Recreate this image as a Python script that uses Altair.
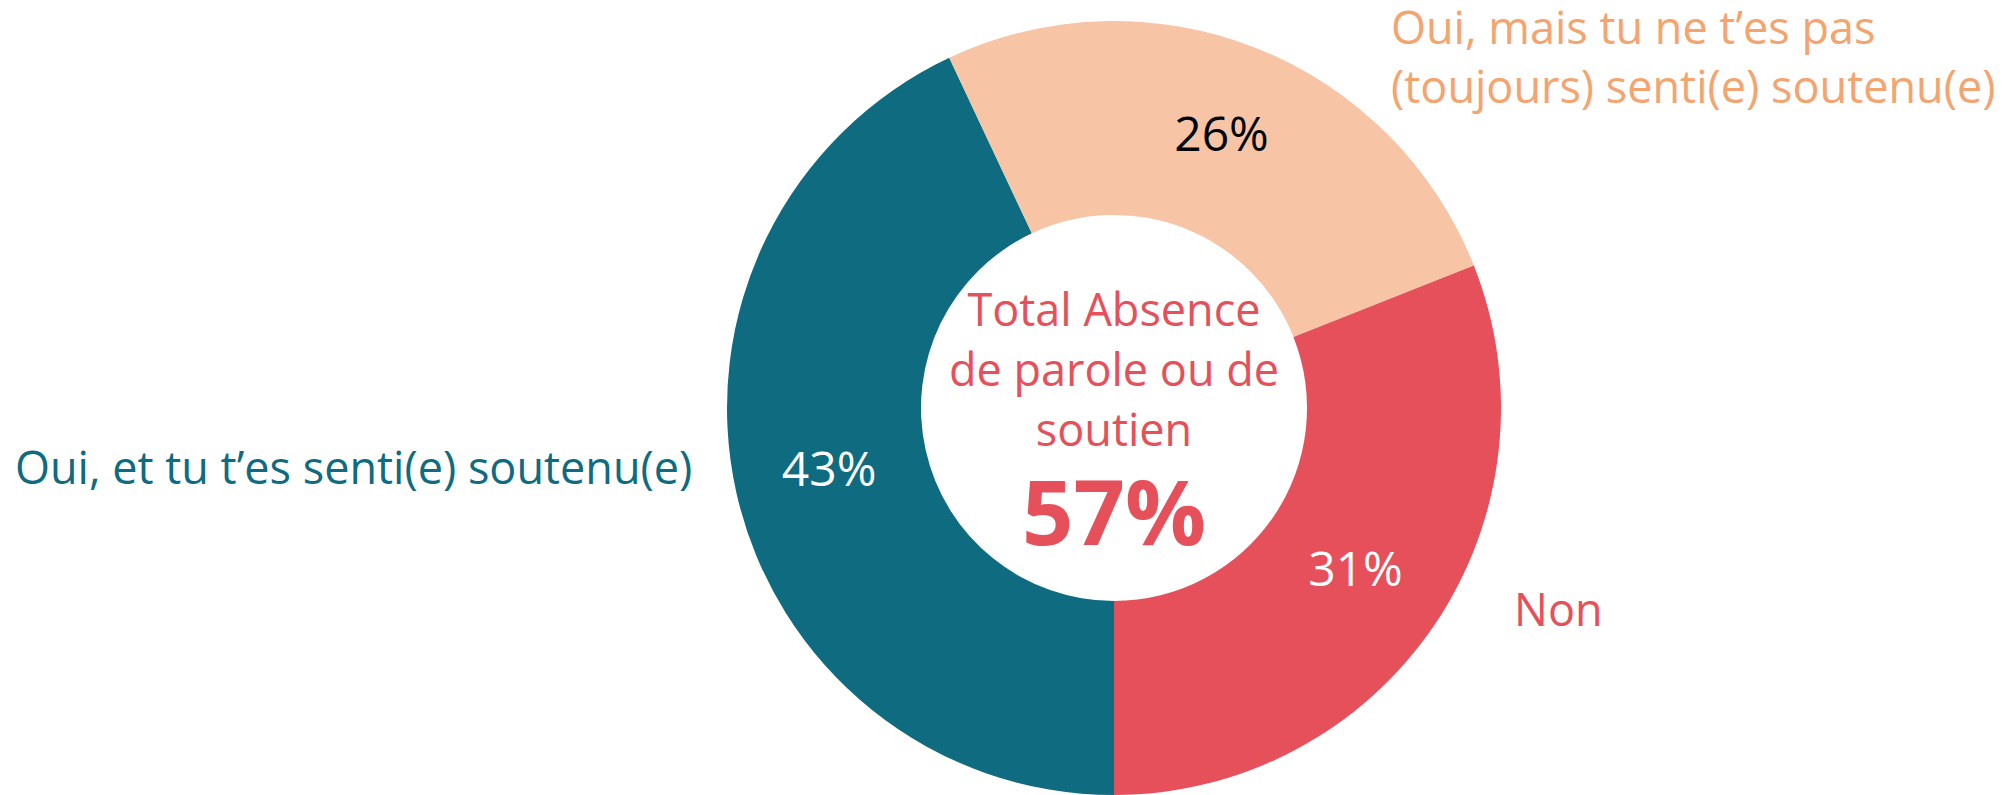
import altair as alt
import pandas as pd

# ---- data ----
categories = [
    "Oui, et tu t’es senti(e) soutenu(e)",
    "Oui, mais tu ne t’es pas (toujours) senti(e) soutenu(e)",
    "Non",
]
values = [43, 26, 31]
order = [1, 2, 3]
pct_labels = ["43%", "26%", "31%"]
seg_colors = ["#0F6B80", "#F7C4A5", "#E5505A"]
pct_text_colors = ["#FFFFFF", "#000000", "#FFFFFF"]
mais_lines = ["Oui, mais tu ne t’es pas", "(toujours) senti(e) soutenu(e)"]

center_lines = ["Total Absence", "de parole ou de", "soutien"]
center_total = "57%"

FONT = "Open Sans"
CX, CY = 1106, 400
R_OUT, R_IN = 387, 193

df = pd.DataFrame({
    "cat": categories,
    "value": values,
    "ord": order,
    "pct": pct_labels,
    "tcol": pct_text_colors,
})

color_scale = alt.Scale(domain=categories, range=seg_colors)
theta_enc = alt.Theta("value:Q", stack=True,
                      scale=alt.Scale(range=[3.141592653589793, 3 * 3.141592653589793]))

base = alt.Chart(df)

arcs = base.mark_arc(innerRadius=R_IN, outerRadius=R_OUT).encode(
    theta=theta_enc,
    order=alt.Order("ord:Q"),
    color=alt.Color("cat:N", scale=color_scale, legend=None),
    x=alt.value(CX),
    y=alt.value(CY),
)

pct_text = base.mark_text(radius=292, font=FONT, fontSize=48, baseline="middle",
                          align="center").encode(
    theta=theta_enc,
    order=alt.Order("ord:Q"),
    text="pct:N",
    color=alt.Color("tcol:N", scale=None),
    x=alt.value(CX),
    y=alt.value(CY),
)

# category labels (annotations)
lab_oui = alt.Chart(pd.DataFrame({"t": [categories[0]]})).mark_text(
    font=FONT, fontSize=45, align="left", baseline="middle", color="#0F6B80"
).encode(text="t:N", x=alt.value(7), y=alt.value(462))

lab_mais = alt.Chart(pd.DataFrame({"t": [categories[1]]})).mark_text(
    font=FONT, fontSize=45, align="left", baseline="middle", color="#F4A46F",
    lineHeight=59
).encode(
    text=alt.value(mais_lines),
    x=alt.value(1383), y=alt.value(22),
)

lab_non = alt.Chart(pd.DataFrame({"t": [categories[2]]})).mark_text(
    font=FONT, fontSize=45, align="left", baseline="middle", color="#E5505A"
).encode(text="t:N", x=alt.value(1506), y=alt.value(604))

center_txt = alt.Chart(pd.DataFrame({"t": [" ".join(center_lines)]})).mark_text(
    font=FONT, fontSize=45, align="center", baseline="middle", color="#E5505A",
    lineHeight=60
).encode(
    text=alt.value(center_lines),
    x=alt.value(CX), y=alt.value(304),
)

center_big = alt.Chart(pd.DataFrame({"t": [center_total]})).mark_text(
    font=FONT, fontSize=90, fontWeight="bold", align="center", baseline="middle",
    color="#E5505A"
).encode(text="t:N", x=alt.value(CX), y=alt.value(510))

chart = alt.layer(arcs, pct_text, lab_oui, lab_mais, lab_non, center_txt, center_big).properties(
    width=1990, height=787, padding=0, autosize=alt.AutoSizeParams(type="none")
).configure_view(stroke=None)

chart.save("out.html", embed_options={"renderer": "svg", "actions": False})
